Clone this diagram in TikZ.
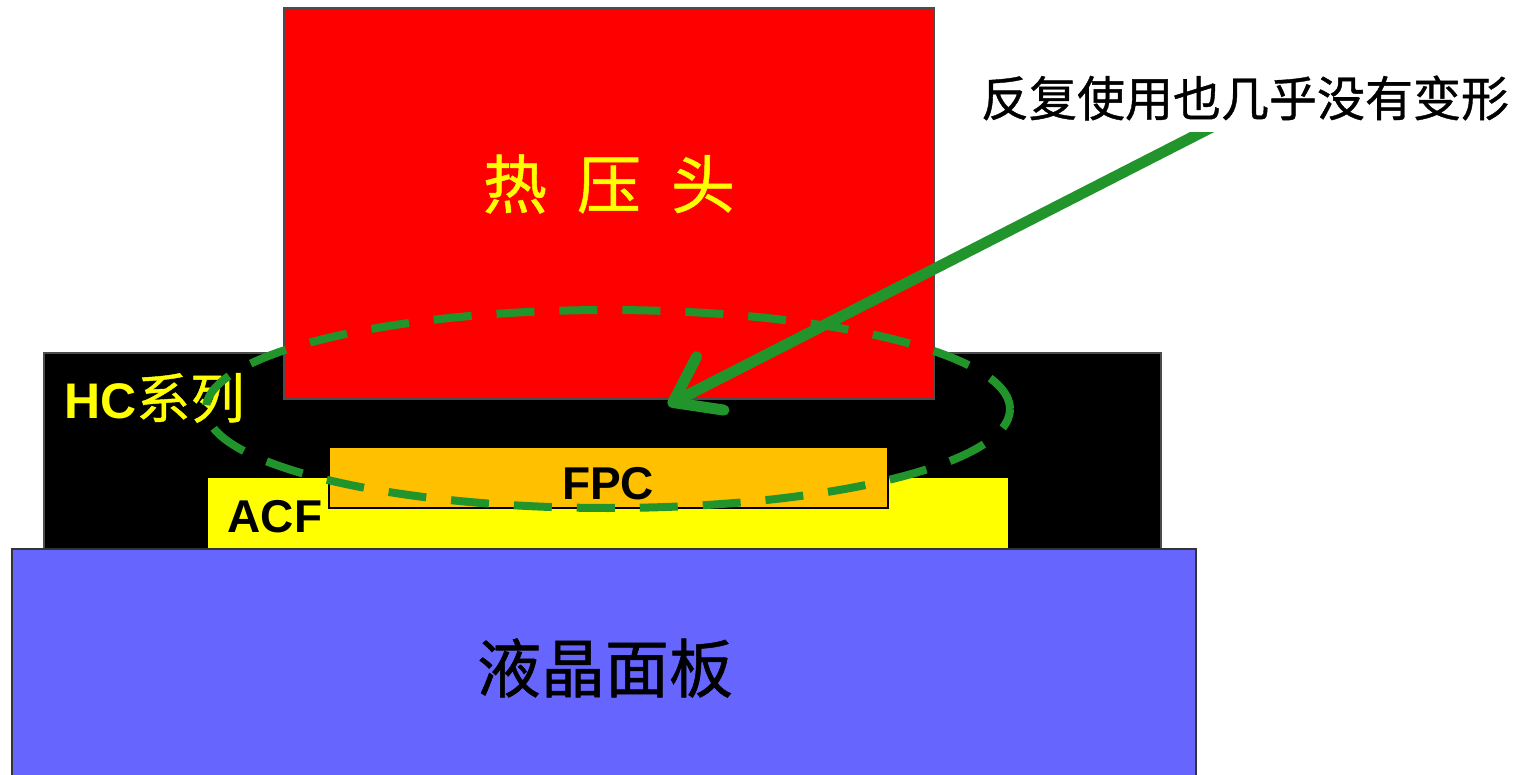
\documentclass[tikz,border=0pt]{standalone}
\usepackage{fontspec}
\setmainfont{Liberation Sans}
\newfontfamily\cjk[FakeBold=0.8]{Noto Sans CJK SC}
\usetikzlibrary{arrows.meta}
\definecolor{hotred}{RGB}{255,0,0}
\definecolor{panelblue}{RGB}{102,102,255}
\definecolor{acfyellow}{RGB}{255,255,0}
\definecolor{fpcorange}{RGB}{255,192,0}
\definecolor{mygreen}{RGB}{34,148,44}
\tikzset{
  block/.style={draw=#1, line width=1.2pt},
  lbl/.style={inner sep=0pt, anchor=center},
  dashring/.style={draw=mygreen, line width=8pt, dash pattern=on 38pt off 25pt},
  bigarrow/.style={draw=mygreen, line width=11pt, -{Straight Barb[length=42pt, width=60pt, round]}},
}
\begin{document}
\begin{tikzpicture}[x=1pt,y=-1pt]
\useasboundingbox (0,0) rectangle (1531,775);
% black HC layer
\path[fill=black, block=black!70] (44,353) rectangle (1161,549);
% heater head
\path[fill=hotred, block=black!70] (284,8) rectangle (934,399);
% ACF
\path[fill=acfyellow] (208,478) rectangle (1008,549);
% FPC
\path[fill=fpcorange, block=black] (329,447) rectangle (888,508);
% panel
\path[fill=panelblue, block=black!80] (12,549) rectangle (1196,790);
% labels
\node[lbl, text=acfyellow, font=\cjk\fontsize{64pt}{70pt}\selectfont] (head) at (609,184) {热\hspace{30pt}压\hspace{30pt}头};
\node[lbl, text=acfyellow, anchor=west] (hc) at (64,398) {{\bfseries\fontsize{50pt}{56pt}\selectfont HC}{\cjk\fontsize{54pt}{60pt}\selectfont 系列}};
\node[lbl, font=\bfseries\fontsize{46pt}{52pt}\selectfont] (fpc) at (608,484) {FPC};
\node[lbl, font=\bfseries\fontsize{46pt}{52pt}\selectfont] (acf) at (275,517) {ACF};
\node[lbl, font=\cjk\fontsize{64pt}{70pt}\selectfont] (panel) at (605,668) {液晶面板};
% dashed ellipse
\path[dashring] (608,409) ellipse [x radius=402pt, y radius=99pt];
% arrow
\coordinate (astart) at (1214,126);
\coordinate (atip) at (668,405);
\draw[bigarrow] (astart) -- (atip);
% note text
\node[lbl, fill=white, inner xsep=4pt, inner ysep=12pt, font=\cjk\fontsize{48pt}{54pt}\selectfont] (note) at (1245,98) {反复使用也几乎没有变形};
\end{tikzpicture}
\end{document}
